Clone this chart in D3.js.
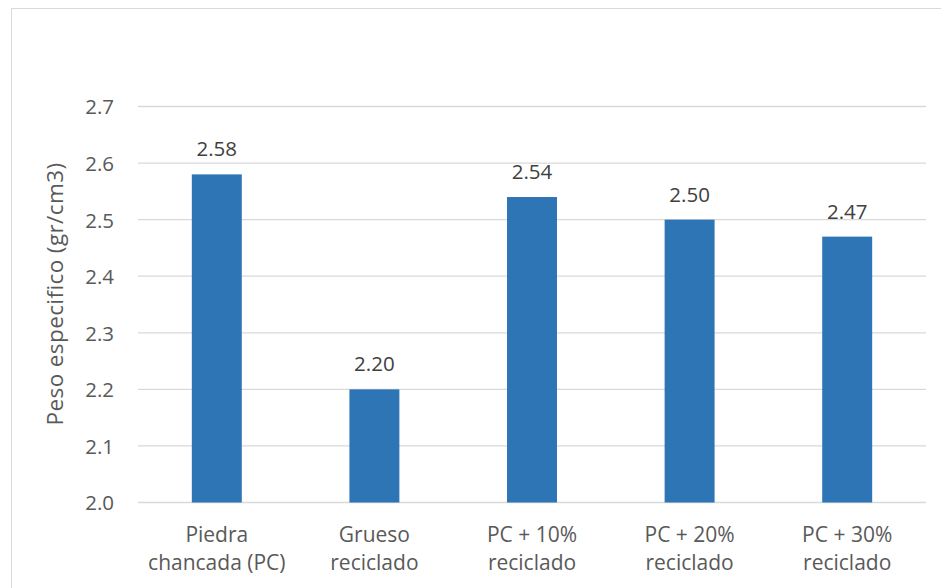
<!DOCTYPE html>
<html>
<head>
<meta charset="utf-8">
<script src="https://cdn.jsdelivr.net/npm/d3@7"></script>
<style>
  html, body { margin: 0; padding: 0; background: #ffffff; }
  svg { display: block; font-family: "Open Sans", Lato, sans-serif; }
</style>
</head>
<body>
<svg id="chart" width="941" height="588"></svg>
<script>
// Specific weight of aggregate mixes
const categories = [
  ["Piedra", "chancada (PC)"],
  ["Grueso", "reciclado"],
  ["PC + 10%", "reciclado"],
  ["PC + 20%", "reciclado"],
  ["PC + 30%", "reciclado"]
];
const values = [2.58, 2.20, 2.54, 2.50, 2.47];
const yTicks = [2.0, 2.1, 2.2, 2.3, 2.4, 2.5, 2.6, 2.7];
const yTitle = "Peso especifico (gr/cm3)";

const FONT = "'Open Sans', Lato, sans-serif";
const svg = d3.select("#chart");
const W = 941, H = 588;
const margin = { left: 138, right: 15, top: 106.5, bottom: 85.5 };
const plotW = W - margin.left - margin.right;
const plotH = H - margin.top - margin.bottom;

// Outer chart frame
svg.append("rect")
  .attr("x", 11.5).attr("y", 8.5)
  .attr("width", W).attr("height", H)
  .attr("fill", "#ffffff")
  .attr("stroke", "#d9d9d9").attr("stroke-width", 1);

const g = svg.append("g").attr("transform", `translate(${margin.left},${margin.top})`);

const x = d3.scaleBand()
  .domain(categories.map((c, i) => i))
  .range([0, plotW])
  .paddingInner(0.683)
  .paddingOuter(0.3415);

const y = d3.scaleLinear().domain([2.0, 2.7]).range([plotH, 0]);

// Horizontal gridlines
g.append("g")
  .selectAll("line")
  .data(yTicks)
  .join("line")
  .attr("x1", 0).attr("x2", plotW)
  .attr("y1", d => y(d)).attr("y2", d => y(d))
  .attr("stroke", "#d9d9d9").attr("stroke-width", 1.3);

// Y axis tick labels
const yAxis = d3.axisLeft(y).tickValues(yTicks).tickFormat(d3.format(".1f")).tickSize(0).tickPadding(24);
const ya = g.append("g").call(yAxis);
ya.select(".domain").remove();
ya.selectAll("text")
  .attr("fill", "#595959")
  .attr("dy", "0.36em")
  .style("font-size", "20.5px")
  .style("font-family", FONT);

// Bars
g.append("g")
  .selectAll("rect")
  .data(values)
  .join("rect")
  .attr("x", (d, i) => x(i))
  .attr("width", x.bandwidth())
  .attr("y", d => y(d))
  .attr("height", d => y(2.0) - y(d))
  .attr("fill", "#2e75b6");

// Value labels above bars
g.append("g")
  .selectAll("text")
  .data(values)
  .join("text")
  .attr("x", (d, i) => x(i) + x.bandwidth() / 2)
  .attr("y", d => y(d) - 18)
  .attr("text-anchor", "middle")
  .attr("fill", "#404040")
  .style("font-size", "20.5px")
  .text(d => d3.format(".2f")(d));

// Category labels (two lines each)
const xa = g.append("g").attr("transform", `translate(0,${plotH})`);
categories.forEach((lines, i) => {
  const t = xa.append("text")
    .attr("text-anchor", "middle")
    .attr("fill", "#595959")
    .style("font-size", "21px");
  lines.forEach((ln, k) => {
    t.append("tspan")
      .attr("x", x(i) + x.bandwidth() / 2)
      .attr("y", 39.5 + k * 27.5)
      .text(ln);
  });
});

// Y axis title
svg.append("text")
  .attr("transform", `translate(62.5,294) rotate(-90)`)
  .attr("text-anchor", "middle")
  .attr("fill", "#595959")
  .style("font-size", "22.5px")
  .style("letter-spacing", "0.4px")
  .text(yTitle);
</script>
</body>
</html>
